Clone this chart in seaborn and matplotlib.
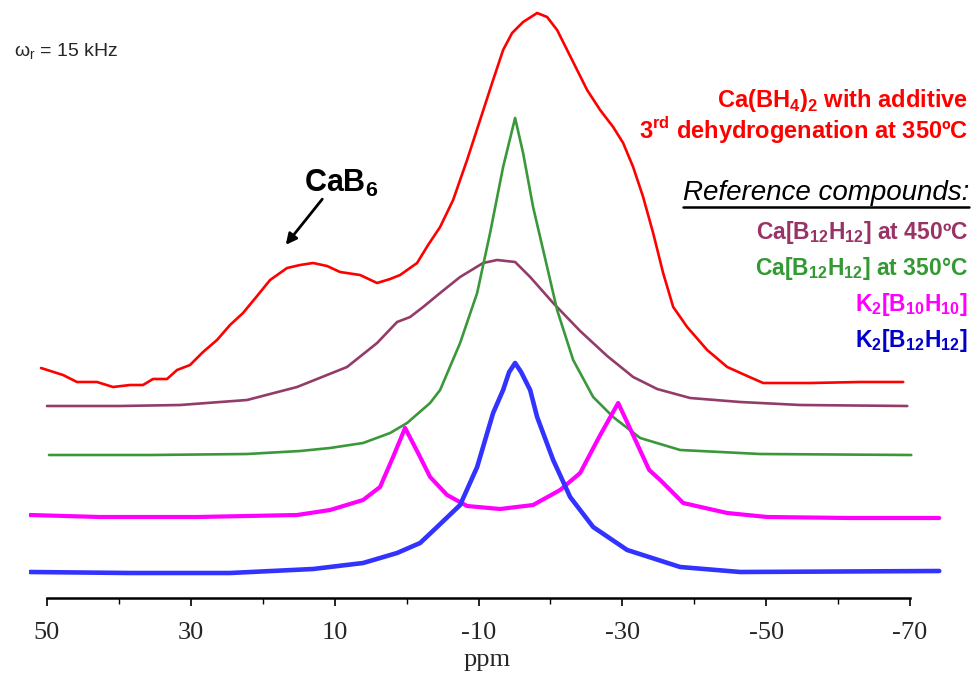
import pandas as pd
import matplotlib
matplotlib.use("Agg")
import matplotlib.pyplot as plt
import seaborn as sns
from matplotlib.lines import Line2D

sns.set_style("white")
plt.rcParams["font.family"] = ["Liberation Sans", "DejaVu Sans"]
plt.rcParams["mathtext.fontset"] = "custom"
plt.rcParams["mathtext.rm"] = "Liberation Sans"
plt.rcParams["mathtext.bf"] = "Liberation Sans:bold"

# Spectra: chemical shift (ppm) and stacked intensity (a.u.)
red_ppm = [50.83, 47.77, 45.83, 43.05, 40.82, 38.46, 36.65, 35.26, 33.31, 31.92,
           30.11, 28.30, 26.36, 24.55, 22.74, 20.79, 18.98, 16.62, 14.81, 13.00,
           11.06, 9.25, 6.47, 4.10, 2.29, 0.90, -1.46, -2.99, -4.66, -6.47,
           -8.41, -10.22, -12.03, -13.42, -14.67, -16.20, -18.15, -19.54, -20.93, -22.32,
           -23.71, -25.10, -26.91, -28.72, -30.11, -31.50, -32.89, -34.28, -35.67, -37.07,
           -39.01, -41.79, -44.58, -47.36, -49.58, -56.12, -63.07, -69.05]
red_int = [230, 223, 216, 216, 211, 213, 213, 219, 219, 228,
           233, 246, 258, 273, 285, 302, 318, 330, 333, 335,
           332, 326, 323, 315, 319, 323, 335, 353, 371, 398,
           438, 478, 518, 548, 565, 576, 585, 581, 568, 548,
           528, 508, 488, 471, 455, 431, 401, 365, 325, 291,
           271, 248, 231, 222, 215, 215, 216, 216]

mauve_ppm = [50.00, 39.85, 31.50, 22.18, 15.23, 8.28, 4.10, 1.32, -0.49, -2.30,
             -4.66, -7.44, -10.64, -12.59, -15.09, -17.18, -20.38, -24.13, -27.89, -31.50,
             -34.84, -39.43, -46.38, -54.73, -69.61]
mauve_int = [192, 192, 193, 198, 211, 231, 255, 276, 281, 291,
             305, 321, 335, 338, 336, 321, 295, 267, 242, 221,
             209, 200, 196, 193, 192]

green_ppm = [49.72, 35.67, 22.18, 14.81, 10.64, 6.05, 2.29, -0.07, -3.27, -4.66,
             -7.44, -9.81, -11.61, -13.42, -15.09, -16.20, -17.59, -19.54, -20.93, -23.16,
             -25.94, -28.72, -32.48, -38.04, -49.17, -70.17]
green_int = [143, 143, 144, 147, 150, 155, 165, 175, 195, 208,
             255, 305, 365, 431, 480, 445, 391, 331, 288, 238,
             201, 181, 160, 148, 144, 143]

magenta_ppm = [52.36, 42.63, 29.14, 15.23, 10.64, 6.05, 3.69, 1.88, 0.21, -1.60,
               -3.27, -5.63, -8.41, -13.00, -17.59, -21.35, -24.13, -26.77, -29.42, -31.36,
               -33.73, -35.26, -38.46, -44.58, -50.14, -61.68, -74.06]
magenta_int = [83, 81, 81, 83, 88, 98, 111, 141, 170, 145,
               121, 103, 92, 89, 93, 108, 125, 161, 195, 165,
               128, 118, 95, 85, 81, 80, 80]

blue_ppm = [52.36, 38.46, 24.55, 13.00, 6.05, 1.32, -1.88, -4.24, -7.44, -9.81,
            -12.03, -13.42, -14.26, -15.09, -15.92, -17.18, -18.15, -20.38, -22.74, -25.94,
            -30.67, -38.04, -46.38, -74.06]
blue_int = [26, 25, 25, 29, 35, 45, 55, 71, 93, 131,
            185, 208, 226, 235, 226, 208, 181, 138, 101, 71,
            48, 31, 26, 27]

tick_vals = [50, 30, 10, -10, -30, -50, -70]
tick_labels = ["50", "30", "10", "-10", "-30", "-50", "-70"]
minor_vals = [40, 20, 0, -20, -40, -60]

traces = [
    ("red", red_ppm, red_int, "#FF0000", 1.9),
    ("mauve", mauve_ppm, mauve_int, "#933C69", 1.9),
    ("green", green_ppm, green_int, "#3A983A", 1.9),
    ("magenta", magenta_ppm, magenta_int, "#FF00FF", 3.0),
    ("blue", blue_ppm, blue_int, "#3333FF", 3.3),
]

W, H = 976, 674
fig = plt.figure(figsize=(W / 100, H / 100), dpi=100)
ax = fig.add_axes([29 / W, (H - 598) / H, (946 - 29) / W, 598 / H])

for name, xs, ys, color, lw in traces:
    df = pd.DataFrame({"ppm": xs, "intensity": ys})
    sns.lineplot(data=df, x="ppm", y="intensity", color=color, linewidth=lw,
                 sort=False, ax=ax)

ax.set_xlim(52.5, -75)
ax.set_ylim(0, 598)
ax.set_yticks([])
ax.set_ylabel("")
for s in ["left", "top", "right"]:
    ax.spines[s].set_visible(False)
ax.spines["bottom"].set_bounds(-70, 50)
ax.spines["bottom"].set_linewidth(1.8)
ax.spines["bottom"].set_color("black")
ax.set_xticks(tick_vals)
ax.set_xticklabels(tick_labels, fontfamily="Liberation Serif", fontsize=19)
ax.set_xticks(minor_vals, minor=True)
ax.tick_params(axis="x", which="major", direction="out", length=6, width=1.2,
               color="black", pad=11, bottom=True)
ax.tick_params(axis="x", which="minor", direction="out", length=4, width=1.0,
               color="black", bottom=True)
ax.set_xlabel("ppm", fontfamily="Liberation Serif", fontsize=19, labelpad=4)


def px(x, y):
    return x / W, 1 - y / H


fig.text(*px(14, 52), "ω$_\\mathrm{r}$ = 15 kHz", fontsize=14, va="center", ha="left")
fig.text(*px(968, 100), "Ca(BH$_\\mathbf{4}$)$_\\mathbf{2}$ with additive",
         color="#FF0000", fontsize=17, fontweight="bold", ha="right", va="center")
fig.text(*px(968, 130), "3$^\\mathbf{rd}$ dehydrogenation at 350ºC",
         color="#FF0000", fontsize=17, fontweight="bold", ha="right", va="center")
ref = fig.text(*px(969, 193), "Reference compounds:", color="black", fontsize=20,
               fontstyle="italic", ha="right", va="center")
fig.text(*px(968, 232), "Ca[B$_\\mathbf{12}$H$_\\mathbf{12}$] at 450ºC",
         color="#993366", fontsize=16.5, fontweight="bold", ha="right", va="center")
fig.text(*px(968, 268), "Ca[B$_\\mathbf{12}$H$_\\mathbf{12}$] at 350°C",
         color="#339933", fontsize=16.5, fontweight="bold", ha="right", va="center")
fig.text(*px(968, 304), "K$_\\mathbf{2}$[B$_\\mathbf{10}$H$_\\mathbf{10}$]",
         color="#FF00FF", fontsize=16.5, fontweight="bold", ha="right", va="center")
fig.text(*px(968, 340), "K$_\\mathbf{2}$[B$_\\mathbf{12}$H$_\\mathbf{12}$]",
         color="#0000CC", fontsize=16.5, fontweight="bold", ha="right", va="center")

fig.text(*px(341, 183), "CaB$_\\mathbf{6}$", color="black", fontsize=22,
         fontweight="bold", ha="center", va="center")
ax.annotate("", xy=px(284, 247), xytext=px(324, 197),
            xycoords="figure fraction", textcoords="figure fraction",
            arrowprops=dict(arrowstyle="-|>", color="black", lw=2.0,
                            mutation_scale=16))

# underline the "Reference compounds:" heading
fig.canvas.draw()
bb = ref.get_window_extent(fig.canvas.get_renderer())
fig.add_artist(Line2D([bb.x0 / W, bb.x1 / W], [(bb.y0 - 1) / H, (bb.y0 - 1) / H],
                      transform=fig.transFigure, color="black", lw=1.8))

fig.savefig("out.png", dpi=100)
